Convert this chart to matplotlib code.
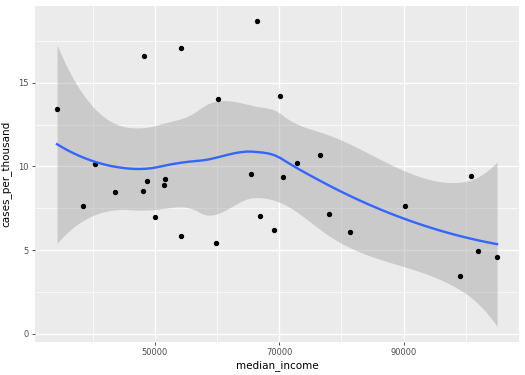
import math
import matplotlib
matplotlib.use('agg')
import matplotlib.pyplot as plt
import matplotlib.ticker as ticker
import numpy as np

median_income = [34280, 38400, 40440, 43540, 48190, 48140, 48670, 50110, 51440,
                 51560, 54170, 54280, 60100, 59900, 66420, 65400, 66840, 70050,
                 69090, 70640, 72780, 76630, 78020, 81390, 90210, 100750, 99030,
                 102030, 105020]
cases_per_thousand = [13.45, 7.64, 10.14, 8.47, 16.57, 8.53, 9.10, 7.00, 8.87,
                      9.26, 17.08, 5.83, 14.05, 5.45, 18.67, 9.54, 7.04, 14.18,
                      6.19, 9.38, 10.18, 10.71, 7.18, 6.07, 7.65, 9.44, 3.45,
                      4.92, 4.58]

x = np.array(median_income, dtype=float)
y = np.array(cases_per_thousand, dtype=float)
n = len(x)
span = 0.75


# local quadratic loess weights, like R's loess(span=0.75, degree=2)
def loess_row(x0):
    d = np.abs(x - x0)
    q = int(np.floor(span * n))
    h = np.sort(d)[q - 1]
    w = np.clip(1 - (d / h) ** 3, 0, None) ** 3
    X = np.column_stack([np.ones(n), x - x0, (x - x0) ** 2])
    W = np.diag(w)
    A = X.T @ W @ X
    return (np.linalg.solve(A, X.T @ W))[0]


L = np.array([loess_row(xi) for xi in x])
res = y - L @ y
M = (np.eye(n) - L).T @ (np.eye(n) - L)
d1 = np.trace(M)
d2 = np.trace(M @ M)
sigma = math.sqrt(res @ res / d1)
df = d1 ** 2 / d2


def t_pdf(t, v):
    c = math.gamma((v + 1) / 2) / (math.sqrt(v * math.pi) * math.gamma(v / 2))
    return c * (1 + t ** 2 / v) ** (-(v + 1) / 2)


def t_quant(p, v):
    lo, hi = 0.0, 10.0
    for _ in range(60):
        mid = (lo + hi) / 2
        tt = np.linspace(0, mid, 2001)
        area = 0.5 + np.trapezoid(t_pdf(tt, v), tt)
        if area < p:
            lo = mid
        else:
            hi = mid
    return (lo + hi) / 2


tq = t_quant(0.975, df)

# kd-tree vertices like R's surface="interpolate"
fc = int(np.floor(n * span * 0.2))
xsorted = np.sort(x)
pad = 0.005 * (xsorted[-1] - xsorted[0])
verts = {xsorted[0] - pad, xsorted[-1] + pad}


def split(pts):
    if len(pts) <= fc:
        return
    m = (len(pts) + 1) // 2
    v = (pts[m - 1] + pts[m]) / 2
    verts.add(v)
    split(pts[:m])
    split(pts[m:])


split(xsorted)
verts = np.array(sorted(verts))


def fit_at(v):
    return loess_row(v) @ y


def se_at(v):
    return sigma * np.sqrt((loess_row(v) ** 2).sum())


def hermite(fun, xv, xs):
    eps = 1.0
    vals = np.array([fun(v) for v in xv])
    slopes = np.array([(fun(v + eps) - fun(v - eps)) / (2 * eps) for v in xv])
    out = np.empty_like(xs)
    for k, t in enumerate(xs):
        i = min(np.searchsorted(xv, t, side='right') - 1, len(xv) - 2)
        i = max(i, 0)
        hgap = xv[i + 1] - xv[i]
        s = (t - xv[i]) / hgap
        h00 = 2 * s ** 3 - 3 * s ** 2 + 1
        h10 = s ** 3 - 2 * s ** 2 + s
        h01 = -2 * s ** 3 + 3 * s ** 2
        h11 = s ** 3 - s ** 2
        out[k] = (h00 * vals[i] + h10 * hgap * slopes[i]
                  + h01 * vals[i + 1] + h11 * hgap * slopes[i + 1])
    return out


xs = np.linspace(x.min(), x.max(), 80)
fit = hermite(fit_at, verts, xs)
se = hermite(se_at, verts, xs)

fig = plt.figure(figsize=(5.25, 3.75), dpi=100)
ax = fig.add_axes([0.0667, 0.089, 0.922, 0.895])
ax.set_facecolor('#EBEBEB')
for s in ax.spines.values():
    s.set_visible(False)

ax.fill_between(xs, fit - tq * se, fit + tq * se, color='#999999', alpha=0.4,
                linewidth=0, zorder=3)
ax.scatter(x, y, s=8, color='black', zorder=4)
ax.plot(xs, fit, color='#3366FF', linewidth=1.7, zorder=5)

xr = x.max() - x.min()
ax.set_xlim(x.min() - 0.05 * xr, x.max() + 0.05 * xr)
ylo = min((fit - tq * se).min(), y.min())
yhi = max((fit + tq * se).max(), y.max())
yr = yhi - ylo
ax.set_ylim(ylo - 0.05 * yr, yhi + 0.05 * yr)

ax.xaxis.set_major_locator(ticker.FixedLocator([50000, 70000, 90000]))
ax.xaxis.set_minor_locator(ticker.FixedLocator([40000, 60000, 80000, 100000]))
ax.yaxis.set_major_locator(ticker.MultipleLocator(5))
ax.yaxis.set_minor_locator(ticker.FixedLocator([2.5, 7.5, 12.5, 17.5]))
ax.grid(which='major', color='white', linewidth=1.0, zorder=0)
ax.grid(which='minor', color='white', linewidth=0.5, zorder=0)
ax.set_axisbelow(True)
ax.tick_params(which='major', length=2.5, width=0.6, color='#333333',
               labelsize=6, labelcolor='#4D4D4D', pad=2)
ax.tick_params(which='minor', length=0)

ax.set_xlabel('median_income', fontsize=7.5, labelpad=2)
ax.set_ylabel('cases_per_thousand', fontsize=7.5, labelpad=5)

plt.savefig('out.png', dpi=100)
